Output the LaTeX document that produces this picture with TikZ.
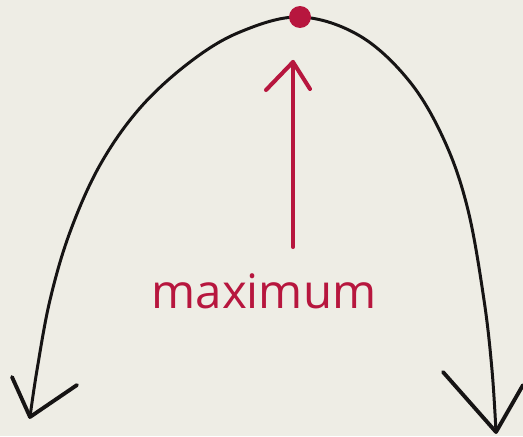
\documentclass[tikz,border=0pt]{standalone}
\usepackage{fontspec}
\setsansfont{Open Sans}
\usepackage{tikz}
\usetikzlibrary{
  arrows.meta,
  positioning,
  calc
}
\definecolor{paper}{RGB}{238,237,229}
\definecolor{inkblack}{RGB}{22,20,20}
\definecolor{inkred}{RGB}{183,22,62}
\tikzset{
  curveline/.style={
    draw=inkblack, line width=1.7pt, line cap=round, line join=round
  },
  barb/.style={
    curveline, line width=2.2pt
  },
  redline/.style={
    draw=inkred, line width=2.3pt, line cap=round, line join=round
  },
  maxdot/.style={
    circle, fill=inkred, inner sep=0pt, minimum size=0.44cm
  },
  label/.style={
    text=inkred, font=\sffamily\fontsize{27}{30}\selectfont
  }
}

\begin{document}
\begin{tikzpicture}[x=0.02cm, y=-0.02cm]
  % paper background, fixes the size too
  \fill[paper] (0,0) rectangle (523,436);
  \useasboundingbox (0,0) rectangle (523,436);

  % the hand drawn parabola
  \coordinate (ltip) at (30,417);
  \coordinate (rtip) at (496,432);
  \coordinate (top)  at (300,17);
  \draw[curveline] plot[smooth, tension=0.6] coordinates {
    (ltip) (37,370) (50,300) (70,232) (100,165) (140,108)
    (190,62) (240,32) (top) (360,36) (410,82) (445,142)
    (468,210) (484,300) (492,370) (rtip)};

  % open arrow heads at both ends
  \coordinate (lb1) at (12,377);
  \coordinate (lb2) at (77,385);
  \coordinate (rb1) at (443,372);
  \coordinate (rb2) at (523,385);
  \draw[barb] (lb1) -- (ltip) -- (lb2);
  \draw[barb] (rb1) -- (rtip) -- (rb2);

  % the maximum point
  \node[maxdot] (peak) at (300,17) {};

  % red arrow and its label
  \node[label] (maxlabel) at (264,291) {maximum};
  \coordinate (abot) at (293,247);
  \coordinate (atop) at (293,62);
  \draw[redline] (abot) -- (atop);
  \draw[redline] (266,90) -- (atop) -- (310,89);
\end{tikzpicture}
\end{document}
